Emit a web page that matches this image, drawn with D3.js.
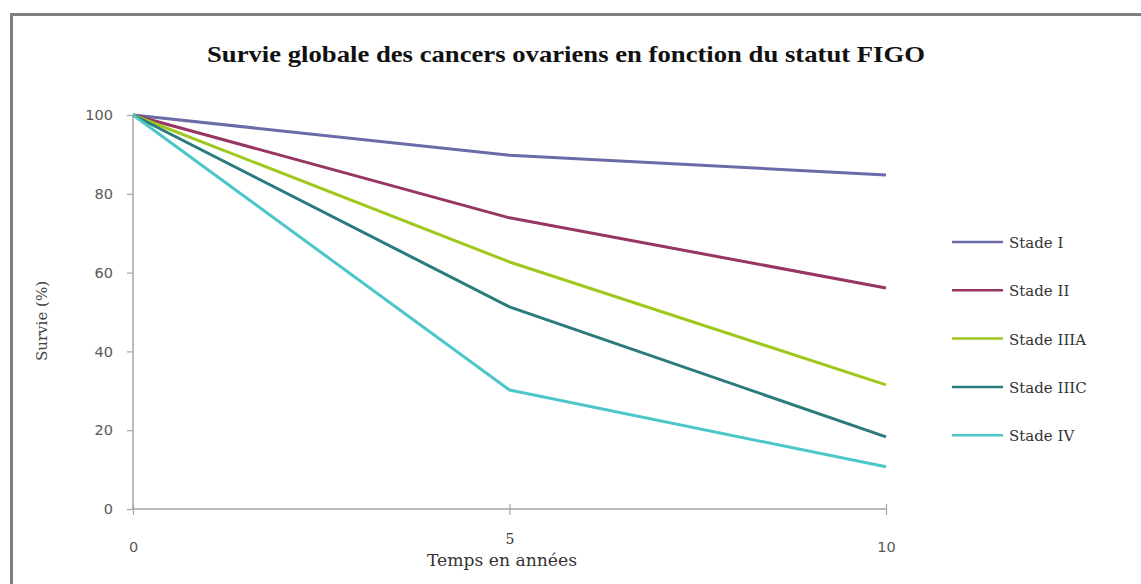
<!DOCTYPE html>
<html><head><meta charset="utf-8">
<script src="https://cdn.jsdelivr.net/npm/d3@7"></script>
<style>html,body{margin:0;padding:0;background:#fff;}svg{display:block;}</style>
</head><body>
<svg id="c" width="1141" height="584"></svg>
<script>
const years = [0, 5, 10];
const seriesNames = ["Stade I", "Stade II", "Stade IIIA", "Stade IIIC", "Stade IV"];
const stadeI = [100, 89.8, 84.8];
const stadeII = [100, 73.9, 56.1];
const stadeIIIA = [100, 62.7, 31.5];
const stadeIIIC = [100, 51.3, 18.3];
const stadeIV = [100, 30.2, 10.7];
const seriesColors = ["#6b6ba8", "#973563", "#9fc81d", "#2b7a7c", "#4cc6c9"];
const yTicks = [0, 20, 40, 60, 80, 100];
const xTicks = [0, 5, 10];
const title = "Survie globale des cancers ovariens en fonction du statut FIGO";
const xTitle = "Temps en années";
const yTitle = "Survie (%)";

const allSeries = [stadeI, stadeII, stadeIIIA, stadeIIIC, stadeIV];
const svg = d3.select("#c");
const serif = "DejaVu Serif, serif";
const sans = "DejaVu Sans, sans-serif";

// frame
svg.append("path").attr("d", "M11.5,584 L11.5,14.5 L1141,14.5")
  .attr("fill", "none").attr("stroke", "#7f7f7f").attr("stroke-width", 3);

const x = d3.scaleLinear().domain([0, 10]).range([133, 886]);
const y = d3.scaleLinear().domain([0, 100]).range([509, 115]);

// title
svg.append("text").attr("x", 566).attr("y", 62).attr("text-anchor", "middle")
  .attr("font-family", "Liberation Serif, Times New Roman, serif").attr("font-weight", "bold")
  .attr("font-size", 23).attr("fill", "#111")
  .attr("textLength", 718).attr("lengthAdjust", "spacingAndGlyphs").text(title);

// y axis
const yAxis = svg.append("g").attr("transform", `translate(${x(0)},0)`)
  .call(d3.axisLeft(y).tickValues(yTicks).tickSize(6).tickPadding(14).tickFormat(d3.format("d")));
yAxis.select(".domain").attr("stroke", "#a6a6a6").attr("stroke-width", 1.5).attr("d", `M0,${y(0)}V${y(100)}`);
yAxis.selectAll(".tick line").attr("stroke", "#a6a6a6").attr("stroke-width", 1.2);
yAxis.selectAll(".tick text").attr("font-family", sans).attr("font-size", 14.5).attr("fill", "#595959");

// x axis
const xAxis = svg.append("g").attr("transform", `translate(0,${y(0)})`)
  .call(d3.axisBottom(x).tickValues(xTicks).tickSize(6).tickPadding(27).tickFormat(d3.format("d")));
xAxis.select(".domain").attr("stroke", "#a6a6a6").attr("stroke-width", 1.5).attr("d", `M${x(0)},0H${x(10)}`);
xAxis.selectAll(".tick line").attr("stroke", "#a6a6a6").attr("stroke-width", 1.2).attr("y1", -5).attr("y2", 6);
xAxis.selectAll(".tick text").attr("font-family", sans).attr("font-size", 14.5).attr("fill", "#595959");
xAxis.selectAll(".tick").filter(d => d === 5).select("text")
  .attr("font-family", serif).attr("font-size", 14).attr("fill", "#333").attr("y", 25);

// axis titles
svg.append("text").attr("x", 502).attr("y", 566).attr("text-anchor", "middle")
  .attr("font-family", serif).attr("font-size", 16).attr("fill", "#333")
  .attr("textLength", 150).attr("lengthAdjust", "spacingAndGlyphs")
  .text(xTitle);
svg.append("text").attr("transform", `translate(47,321) rotate(-90)`).attr("text-anchor", "middle")
  .attr("font-family", serif).attr("font-size", 15).attr("fill", "#444")
  .text(yTitle);

// lines
const line = d3.line().x((d, i) => x(years[i])).y(d => y(d));
svg.append("g").selectAll("path").data(allSeries).join("path")
  .attr("d", line).attr("fill", "none")
  .attr("stroke", (d, i) => seriesColors[i]).attr("stroke-width", 3).attr("stroke-linejoin", "round");

// legend
const lg = svg.append("g").selectAll("g").data(seriesNames).join("g")
  .attr("transform", (d, i) => `translate(952,${242 + i * 48.3})`);
lg.append("line").attr("x1", 0).attr("x2", 51).attr("y1", 0).attr("y2", 0)
  .attr("stroke", (d, i) => seriesColors[i]).attr("stroke-width", 2.5);
lg.append("text").attr("x", 57).attr("y", 6).attr("font-family", serif)
  .attr("font-size", 15).attr("fill", "#333").text(d => d);
</script>
</body></html>
